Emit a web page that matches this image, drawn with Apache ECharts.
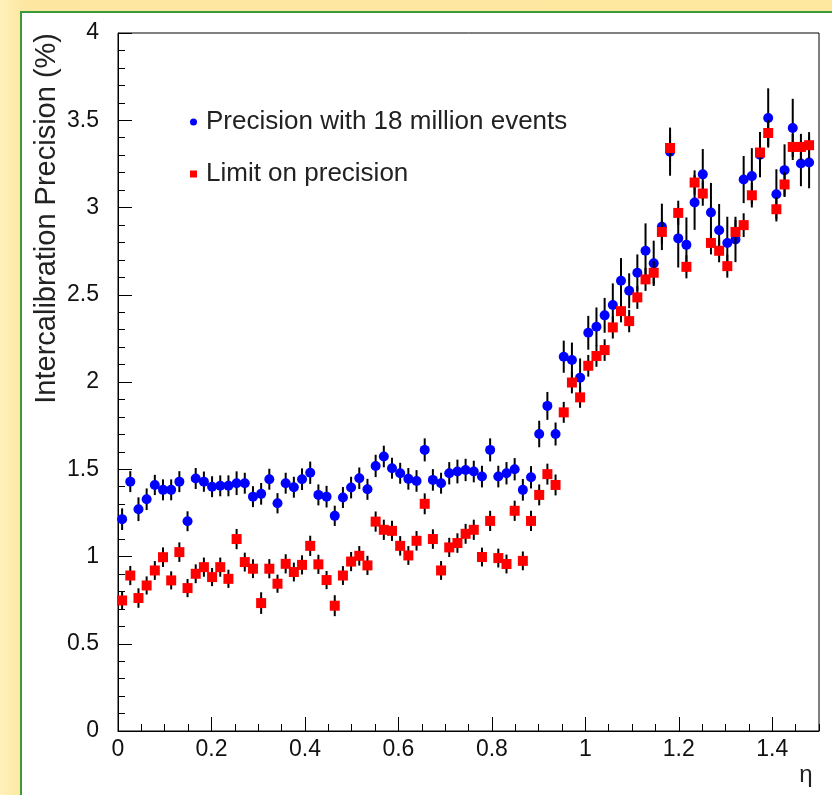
<!DOCTYPE html>
<html><head><meta charset="utf-8">
<script src="https://cdn.jsdelivr.net/npm/echarts@6/dist/echarts.min.js"></script>
<style>
html,body{margin:0;padding:0;width:832px;height:795px;overflow:hidden;
 background:linear-gradient(90deg,#fff1ba 0%,#fde6a0 3%,#fee89f 100%);}
#panel{position:absolute;left:20px;top:11px;width:830px;height:800px;background:#fff;
 border-left:2px solid #3a9a3a;border-top:2px solid #3a9a3a;}
#c{position:absolute;left:0;top:0;width:832px;height:795px;}
</style>
</head><body><div id="panel"></div><div id="c"></div>
<script>
// eta bin centres
var eta = [
 0.0088,0.0263,0.0438,0.0613,0.0788,0.0963,0.1138,0.1313,0.1488,0.1663,
 0.1838,0.2013,0.2188,0.2363,0.2538,0.2713,0.2888,0.3063,0.3238,0.3413,
 0.3588,0.3763,0.3938,0.4113,0.4288,0.4463,0.4638,0.4813,0.4988,0.5163,
 0.5338,0.5513,0.5688,0.5863,0.6038,0.6213,0.6388,0.6563,0.6738,0.6913,
 0.7088,0.7263,0.7438,0.7613,0.7788,0.7963,0.8138,0.8313,0.8488,0.8663,
 0.8838,0.9013,0.9188,0.9363,0.9538,0.9713,0.9888,1.0063,1.0238,1.0413,
 1.0588,1.0763,1.0938,1.1113,1.1288,1.1463,1.1638,1.1813,1.1988,1.2163,
 1.2338,1.2513,1.2688,1.2863,1.3038,1.3213,1.3388,1.3563,1.3738,1.3913,
 1.4088,1.4263,1.4438,1.4613,1.4788
];
// Precision with 18 million events (%)
var precision = [
 1.214,1.429,1.271,1.328,1.410,1.382,1.382,1.429,1.202,1.447,
 1.429,1.400,1.405,1.405,1.420,1.420,1.343,1.359,1.443,1.305,
 1.420,1.397,1.443,1.480,1.353,1.343,1.233,1.338,1.395,1.448,
 1.385,1.519,1.573,1.506,1.477,1.445,1.433,1.611,1.439,1.420,
 1.477,1.487,1.496,1.487,1.458,1.611,1.458,1.477,1.500,1.382,
 1.454,1.702,1.863,1.702,2.145,2.126,2.025,2.282,2.317,2.382,
 2.441,2.580,2.523,2.626,2.752,2.680,2.889,3.320,2.823,2.786,
 3.029,3.190,2.971,2.870,2.797,2.817,3.160,3.180,3.303,3.513,
 3.076,3.214,3.456,3.252,3.258
];
var precisionErr = [
 0.062,0.060,0.068,0.062,0.058,0.060,0.060,0.060,0.057,0.060,
 0.058,0.060,0.060,0.060,0.068,0.060,0.060,0.062,0.060,0.058,
 0.060,0.060,0.062,0.064,0.060,0.062,0.058,0.060,0.062,0.062,
 0.060,0.064,0.062,0.060,0.060,0.062,0.062,0.066,0.062,0.060,
 0.064,0.068,0.064,0.062,0.062,0.066,0.062,0.064,0.064,0.062,
 0.064,0.076,0.080,0.066,0.092,0.100,0.110,0.097,0.110,0.100,
 0.124,0.130,0.100,0.105,0.157,0.130,0.133,0.138,0.167,0.157,
 0.157,0.145,0.170,0.150,0.150,0.130,0.135,0.160,0.130,0.170,
 0.143,0.148,0.167,0.130,0.148
];
// Limit on precision (%)
var limit = [
 0.748,0.891,0.762,0.834,0.920,0.996,0.863,1.025,0.819,0.901,
 0.939,0.882,0.939,0.872,1.100,0.968,0.930,0.733,0.930,0.844,
 0.958,0.911,0.952,1.061,0.955,0.865,0.718,0.891,0.971,1.004,
 0.949,1.200,1.153,1.147,1.061,1.006,1.090,1.302,1.100,0.920,
 1.052,1.077,1.130,1.153,0.997,1.204,0.991,0.957,1.262,0.975,
 1.204,1.353,1.472,1.410,1.826,1.997,1.912,2.093,2.149,2.183,
 2.313,2.406,2.349,2.485,2.588,2.626,2.860,3.341,2.969,2.660,
 3.143,3.080,2.797,2.752,2.664,2.860,2.899,3.070,3.315,3.427,
 2.990,3.132,3.347,3.347,3.357
];
var limitErr = [
 0.052,0.055,0.056,0.052,0.054,0.056,0.052,0.056,0.052,0.054,
 0.055,0.052,0.055,0.052,0.058,0.054,0.054,0.062,0.055,0.052,
 0.055,0.054,0.055,0.058,0.055,0.052,0.060,0.054,0.055,0.056,
 0.055,0.058,0.058,0.058,0.056,0.054,0.056,0.060,0.056,0.054,
 0.055,0.056,0.057,0.058,0.054,0.058,0.054,0.054,0.058,0.054,
 0.058,0.060,0.060,0.060,0.060,0.062,0.060,0.062,0.062,0.062,
 0.064,0.064,0.064,0.066,0.066,0.066,0.070,0.075,0.070,0.066,
 0.070,0.070,0.066,0.066,0.066,0.068,0.068,0.070,0.072,0.075,
 0.070,0.072,0.075,0.075,0.075
];
var seriesNames = ['Precision with 18 million events', 'Limit on precision'];
var yTitle = 'Intercalibration Precision (%)';
var xTitle = '\u03b7';

var FONT = '"Liberation Sans", Arial, Helvetica, sans-serif';
function ptData(v){ var d=[]; for(var i=0;i<eta.length;i++) d.push([eta[i], v[i]]); return d; }
function errData(v,e){ var d=[]; for(var i=0;i<eta.length;i++) d.push([eta[i], v[i]-e[i], v[i]+e[i]]); return d; }
function errRender(params, api){
  var x = api.value(0);
  var p1 = api.coord([x, api.value(1)]);
  var p2 = api.coord([x, api.value(2)]);
  return {type:'line', shape:{x1:p1[0], y1:p1[1], x2:p2[0], y2:p2[1]},
          style:{stroke:'#000', lineWidth:2}};
}

var chart = echarts.init(document.getElementById('c'), null, {renderer:'canvas'});
chart.setOption({
  animation:false,
  backgroundColor:'transparent',
  grid:{left:118, right:13, top:33, bottom:64, show:true, borderColor:'#000', borderWidth:1, backgroundColor:'#fff'},
  graphic:[
    {type:'text', x:47, y:33, rotation:Math.PI/2,
     style:{text:yTitle, font:'29px '+FONT, fill:'#222', align:'right', verticalAlign:'middle'}},
    {type:'text', x:806, y:775,
     style:{text:xTitle, font:'24px '+FONT, fill:'#222', align:'center', verticalAlign:'middle'}}
  ],
  legend:{
    orient:'vertical', left:185, top:103, itemWidth:7, itemHeight:7, itemGap:24,
    selectedMode:false,
    data:[{name:seriesNames[0], icon:'circle'}, {name:seriesNames[1], icon:'rect'}],
    textStyle:{fontFamily:FONT, fontSize:26, color:'#222', lineHeight:28, padding:[0,0,0,4]}
  },
  xAxis:[
    {type:'value', min:0, max:1.5, interval:0.2,
     axisLine:{show:true, lineStyle:{color:'#000', width:1}},
     axisTick:{show:true, inside:true, length:14, lineStyle:{color:'#000', width:1}},
     axisLabel:{showMaxLabel:false, color:'#111', fontSize:23, fontFamily:FONT, margin:7},
     splitLine:{show:false}},
    {type:'value', min:0, max:1.5, interval:0.05, position:'bottom',
     axisLine:{show:false},
     axisTick:{show:true, inside:true, length:7, lineStyle:{color:'#000', width:1}},
     axisLabel:{show:false}, splitLine:{show:false}}
  ],
  yAxis:{type:'value', min:0, max:4, interval:0.5,
     axisLine:{show:true, lineStyle:{color:'#000', width:1}},
     axisTick:{show:true, inside:true, length:14, lineStyle:{color:'#000', width:1}},
     minorTick:{show:true, splitNumber:5, length:7, lineStyle:{color:'#000', width:1}},
     axisLabel:{color:'#111', fontSize:23, fontFamily:FONT, margin:19},
     splitLine:{show:false}, minorSplitLine:{show:false}},
  series:[
    {type:'custom', name:'precisionErr', renderItem:errRender, data:errData(precision, precisionErr),
     encode:{x:0, y:[1,2]}, z:2, silent:true},
    {type:'scatter', name:seriesNames[0], data:ptData(precision), symbol:'circle', symbolSize:10,
     itemStyle:{color:'#0000ff', opacity:1}, z:3, silent:true},
    {type:'custom', name:'limitErr', renderItem:errRender, data:errData(limit, limitErr),
     encode:{x:0, y:[1,2]}, z:4, silent:true},
    {type:'scatter', name:seriesNames[1], data:ptData(limit), symbol:'rect', symbolSize:10,
     itemStyle:{color:'#ff0000', opacity:1}, z:5, silent:true}
  ]
});
</script>
</body></html>
